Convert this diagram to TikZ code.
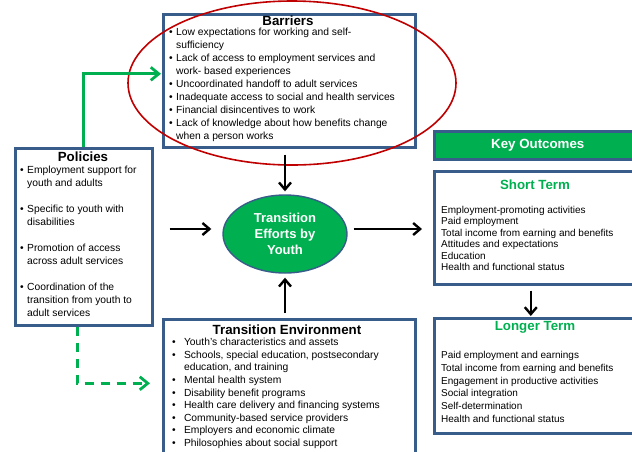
\documentclass[tikz,border=0pt]{standalone}
\usepackage{fontspec}
\setmainfont{Liberation Sans}
\usetikzlibrary{shapes.geometric, arrows.meta, positioning}

\definecolor{boxblue}{HTML}{385D8A}
\definecolor{effgreen}{HTML}{00B050}
\definecolor{ovalred}{HTML}{C00000}

\newcommand{\itemdot}[1][7pt]{\makebox[#1][l]{\textbullet}}
\newcommand{\itemgap}[1][7pt]{\hspace*{#1}}

\begin{document}
\begin{tikzpicture}[
    x=1pt, y=-1pt,
    box/.style={rectangle, draw=boxblue, line width=2.6pt, fill=white, anchor=north west, inner sep=0pt},
    head/.style={font=\fontsize{13.3}{15}\selectfont\bfseries, inner sep=0pt},
    list/.style={font=\fontsize{10.3}{13}\selectfont, align=left, anchor=north west, inner sep=0pt},
    outlist/.style={align=left, anchor=north west, inner sep=0pt},
    flow/.style={-{Straight Barb[length=7pt,width=12pt]}, line width=2.4pt},
    policy/.style={-{Straight Barb[length=8pt,width=13pt]}, draw=effgreen, line width=2.8pt}
]
    \useasboundingbox (0,0) rectangle (632,451);

    % Barriers
    \node[box, minimum width=252, minimum height=133] (barriers) at (162,13) {};
    \node[head] (barrtitle) at (288,21) {Barriers};
    \node[list] (barrlist) at (169,28) {\itemdot Low expectations for working and self-\\
        \itemgap sufficiency\\
        \itemdot Lack of access to employment services and\\
        \itemgap work- based experiences\\
        \itemdot Uncoordinated handoff to adult services\\
        \itemdot Inadequate access to social and health services\\
        \itemdot Financial disincentives to work\\
        \itemdot Lack of knowledge about how benefits change\\
        \itemgap when a person works};
    \node[ellipse, draw=ovalred, line width=1.6pt, minimum width=328, minimum height=164] (highlight) at (292,83) {};

    % Policies
    \node[box, minimum width=137, minimum height=177] (policies) at (14,147) {};
    \node[head] (poltitle) at (83,157) {Policies};
    \node[list] (pollist) at (20,166) {\itemdot Employment support for\\
        \itemgap youth and adults\\[13pt]
        \itemdot Specific to youth with\\
        \itemgap disabilities\\[13pt]
        \itemdot Promotion of access\\
        \itemgap across adult services\\[13pt]
        \itemdot Coordination of the\\
        \itemgap transition from youth to\\
        \itemgap adult services};

    % Transition Environment
    \node[box, minimum width=252, minimum height=142] (transenv) at (162,318) {};
    \node[head] (envtitle) at (287,330) {Transition Environment};
    \node[list, font=\fontsize{10.3}{12.6}\selectfont] (envlist) at (172,338) {\itemdot[9pt] Youth's characteristics and assets\\
        \itemdot[9pt] Schools, special education, postsecondary\\
        \itemgap[9pt] education, and training\\
        \itemdot[9pt] Mental health system\\
        \itemdot[9pt] Disability benefit programs\\
        \itemdot[9pt] Health care delivery and financing systems\\
        \itemdot[9pt] Community-based service providers\\
        \itemdot[9pt] Employers and economic climate\\
        \itemdot[9pt] Philosophies about social support};

    % Transition efforts
    \node[ellipse, draw=boxblue, line width=1.4pt, fill=effgreen, minimum width=124, minimum height=78,
        text=white, align=center, font=\fontsize{13}{16}\selectfont\bfseries] (effort) at (285,234)
        {Transition\\Efforts by\\Youth};

    % Key Outcomes
    \node[box, fill=effgreen, minimum width=207, minimum height=28, text=white,
        font=\fontsize{13.3}{15}\selectfont\bfseries] (keyout) at (433,130) {Key Outcomes};
    \node[box, minimum width=207, minimum height=113] (shortterm) at (433,170) {};
    \node[head, text=effgreen] (shorttitle) at (535,185) {Short Term};
    \node[outlist, font=\fontsize{10}{11.5}\selectfont] (shortlist) at (441,206) {Employment-promoting activities\\
        Paid employment\\
        Total income from earning and benefits\\
        Attitudes and expectations\\
        Education\\
        Health and functional status};
    \node[box, minimum width=207, minimum height=115] (longterm) at (433,317) {};
    \node[head, text=effgreen] (longtitle) at (535,327) {Longer Term};
    \node[outlist, font=\fontsize{10}{12.8}\selectfont] (longlist) at (441,351) {Paid employment and earnings\\
        Total income from earning and benefits\\
        Engagement in productive activities\\
        Social integration\\
        Self-determination\\
        Health and functional status};

    % Arrows
    \draw[flow, shorten <=6pt, shorten >=3pt] (effort.north |- barriers.south) -- (effort.north);
    \draw[flow, shorten <=5pt, shorten >=4pt] (effort.south |- transenv.north) -- (effort.south);
    \draw[flow, shorten <=16pt, shorten >=11pt] ([yshift=5pt]effort.west -| policies.east) -- ([yshift=5pt]effort.west);
    \draw[flow, shorten <=6pt, shorten >=11pt] ([yshift=5pt]effort.east) -- ([yshift=5pt]effort.east -| shortterm.west);
    \draw[flow, shorten <=5pt, shorten >=1pt] ([xshift=-7pt]shortterm.south) -- ([xshift=-7pt]longterm.north);

    % Policy links
    \draw[policy, shorten >=1pt] (policies.north) |- ([yshift=7pt]barriers.west);
    \draw[policy, dashed, dash pattern=on 9pt off 7pt, shorten >=12pt] ([xshift=-6.5pt]policies.south) |- ([yshift=7pt]transenv.west);
\end{tikzpicture}
\end{document}
